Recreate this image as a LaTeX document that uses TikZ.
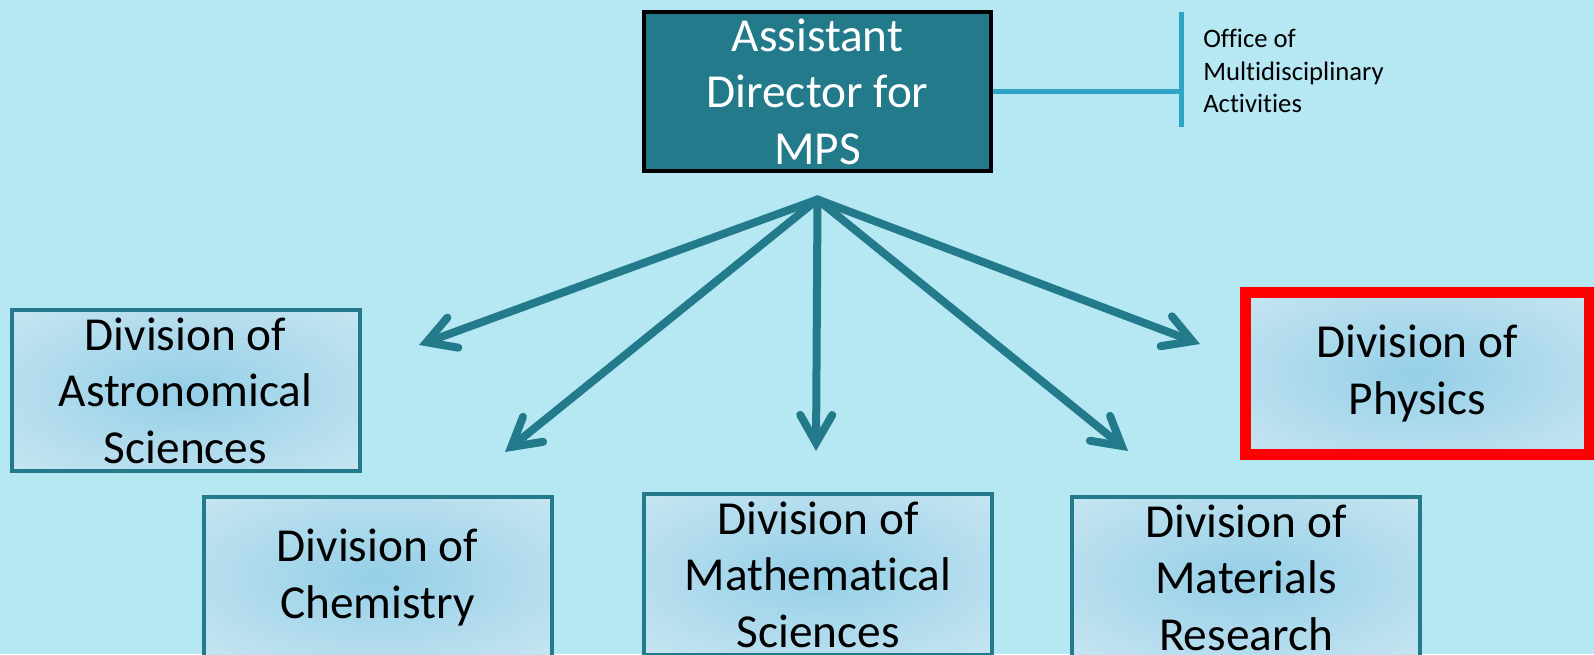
\documentclass[tikz,border=0pt]{standalone}
\usepackage{fontspec}
\setmainfont{Carlito}[Ligatures=NoCommon]
\usepackage{tikz}
\usetikzlibrary{arrows.meta,positioning}
\definecolor{backblue}{HTML}{B5E8F3}
\definecolor{mpsteal}{HTML}{237A8B}
\definecolor{divcenter}{HTML}{94CFE7}
\definecolor{divedge}{HTML}{DCEEF6}
\definecolor{officeblue}{HTML}{2FA4C6}
\pgfdeclareradialshading{divglow}{\pgfpoint{0bp}{0bp}}{color(0bp)=(divcenter); color(50bp)=(divedge)}

\begin{document}
\begin{tikzpicture}[
		x=0.75pt, y=-0.75pt,
		>={Straight Barb[length=21pt,width=24pt,line cap=round,line join=miter]},
		director/.style={
			rectangle,
			draw=black,
			line width=3pt,
			fill=mpsteal,
			text=white,
			align=center,
			minimum width=260pt,
			minimum height=119pt,
			font=\fontsize{35.5}{42.3}\selectfont
		},
		division/.style={
			rectangle,
			draw=mpsteal,
			line width=3pt,
			shading=divglow,
			align=center,
			minimum width=261pt,
			minimum height=120.75pt,
			font=\fontsize{35.5}{42.3}\selectfont
		},
		office/.style={
			align=left,
			inner sep=0pt,
			font=\fontsize{20}{24.4}\selectfont
		},
		officeline/.style={
			draw=officeblue,
			line width=3.75pt
		},
		link/.style={
			draw=mpsteal,
			line width=6pt,
			line cap=round
		}
		]
		\useasboundingbox (0,0) rectangle (1594,654);
		\clip (0,0) rectangle (1594,654);
		\fill[backblue] (0,0) rectangle (1594,654);
		
		% We start by placing the blocks
		\node [director] (director) at (817.5,91.5) {Assistant\\Director for\\MPS};
		
		\node [division] (astro) at (185.5,390.5) {Division of\\Astronomical\\Sciences};
		\node [division] (chem) at (377.5,577.5) {Division of\\Chemistry};
		\node [division] (math) at (818,574.5) {Division of\\Mathematical\\Sciences};
		\node [division] (materials) at (1246,577.5) {Division of\\Materials\\Research};
		\node [division, draw=red, line width=8pt, minimum width=257.6pt, minimum height=121.5pt] (physics) at (1417.25,373.5) {Division of\\Physics};
		
		% office on the side
		\coordinate (bartop) at (1181,12);
		\coordinate (barbottom) at (1181,127);
		\draw [officeline] (bartop) -- (barbottom);
		\draw [officeline] (director.east) -- (director.east -| bartop);
		\node [office, anchor=west] (office) at (1203,71) {Office of\\Multidisciplinary\\Activities};
		
		% arrows from the hub
		\coordinate [below=20pt of director] (hub);
		\coordinate (astrotip) at (419,345);
		\coordinate (chemtip) at (505,452);
		\coordinate (mathtip) at (816,451);
		\coordinate (materialstip) at (1128,451);
		\coordinate (physicstip) at (1200,344);
		
		\draw [link,->] (hub) -- (astrotip);
		\draw [link,->] (hub) -- (chemtip);
		\draw [link,->] (hub) -- (mathtip);
		\draw [link,->] (hub) -- (materialstip);
		\draw [link,->] (hub) -- (physicstip);
		
\end{tikzpicture}
\end{document}
